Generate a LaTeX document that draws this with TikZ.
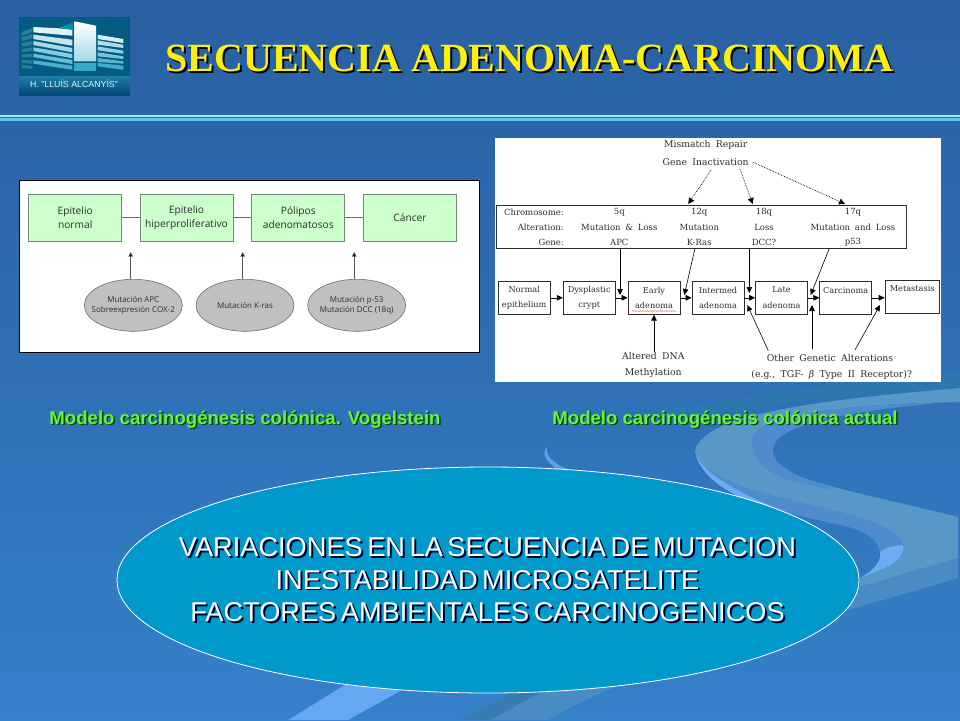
\documentclass[tikz,border=0pt]{standalone}
\usepackage{fontspec}
\setmainfont{Liberation Sans}
\newfontfamily\ttlfont{Liberation Serif}
\newfontfamily\tahfont{Open Sans}
\newfontfamily\serfont[WordSpace=1.8]{DejaVu Serif}
\newfontfamily\bigfont[WordSpace=0.6]{Liberation Sans}
\usetikzlibrary{arrows.meta,shapes.geometric,decorations.pathmorphing}
\definecolor{bgtop}{RGB}{41,96,162}
\definecolor{bgbot}{RGB}{53,129,202}
\definecolor{band}{RGB}{88,152,198}
\definecolor{bandmid}{RGB}{78,140,206}
\definecolor{bandstrip}{RGB}{72,140,195}
\definecolor{bandlow}{RGB}{55,125,180}
\definecolor{bandup}{RGB}{45,122,172}
\definecolor{bandlight}{RGB}{107,172,245}
\definecolor{ovalfill}{RGB}{0,153,204}
\definecolor{boxgreen}{RGB}{204,255,204}
\definecolor{boxedge}{RGB}{120,135,125}
\definecolor{ovalgrey}{RGB}{192,192,192}
\definecolor{capgreen}{RGB}{102,245,60}
\definecolor{ink}{RGB}{45,45,45}
\definecolor{logotop}{RGB}{5,90,130}
\definecolor{logostripT}{RGB}{30,125,165}
\definecolor{logostripB}{RGB}{5,70,120}
\definecolor{flooron}{RGB}{55,170,200}
\tikzset{
  x=1pt,y=-1pt,
  gbox/.style={draw=boxedge,line width=.7pt,fill=boxgreen,minimum width=93,minimum height=47,inner sep=0,align=center,text=ink,font=\tahfont\fontsize{10.2}{13.6}\selectfont},
  goval/.style={ellipse,draw=ink!70,line width=.6pt,fill=ovalgrey,minimum width=98,minimum height=52,inner xsep=-14pt,inner ysep=0,align=center,text=ink,font=\tahfont\fontsize{8}{9.6}\selectfont},
  glink/.style={draw=gray!80!black,line width=.7pt},
  garrow/.style={draw=gray!70!black,line width=.7pt,-{Triangle[length=4.5pt,width=4.5pt,fill=black]}},
  fbox/.style={draw=ink,line width=.7pt,fill=white,minimum width=52,minimum height=33,inner sep=0,align=center,text=ink,font=\serfont\fontsize{8.2}{15.6}\selectfont},
  stxt/.style={inner sep=0,text=ink,font=\serfont\fontsize{9.3}{11}\selectfont},
  ttxt/.style={inner sep=0,text=ink,font=\serfont\fontsize{8.5}{10}\selectfont},
  farrow/.style={draw=black,line width=.6pt,-{Triangle[length=6pt,width=5.5pt]}},
  darrow/.style={draw=black,line width=.7pt,densely dotted,-{Triangle[length=6pt,width=6pt]}},
  ttl/.style={inner sep=0,font=\ttlfont\bfseries\fontsize{40}{42}\selectfont},
  captxt/.style={inner sep=0,font=\bfseries\fontsize{18.6}{21}\selectfont},
  bigtxt/.style={inner sep=0,align=center,font=\bigfont\fontsize{27.2}{32.6}\selectfont},
}
\begin{document}
\begin{tikzpicture}
\useasboundingbox (0,0) rectangle (960,720);
% background
\path[top color=bgtop,bottom color=bgbot,middle color=bgtop!55!bgbot] (0,0) rectangle (960,720);
\clip (0,0) rectangle (960,720);
% swooshes
\fill[bandup,opacity=.7] (547,447) .. controls (590,415) and (800,385) .. (960,372) -- (960,388) .. controls (790,400) and (650,415) .. (547,447) -- cycle;
\fill[band] (695,450) .. controls (705,418) and (790,402) .. (960,388) -- (960,402)
  .. controls (860,404) and (752,412) .. (752,442) .. controls (754,475) and (850,490) .. (958,517)
  -- (958,558) -- (860,587) -- (860,578)
  .. controls (890,567) and (905,560) .. (903,545) .. controls (900,530) and (870,520) .. (840,512)
  .. controls (780,497) and (705,485) .. (695,450) -- cycle;
\fill[bandmid] (752,442) .. controls (752,412) and (860,404) .. (960,402) -- (960,401)
  .. controls (880,408) and (773,420) .. (773,450) .. controls (773,470) and (810,480) .. (835,490)
  .. controls (790,482) and (754,475) .. (752,442) -- cycle;
\fill[bandmid] (695,450) .. controls (705,485) and (780,497) .. (840,512) .. controls (870,520) and (900,530) .. (903,545)
  .. controls (905,560) and (890,567) .. (860,578) .. controls (875,570) and (882,560) .. (880,552)
  .. controls (878,540) and (865,530) .. (840,525) .. controls (770,510) and (700,490) .. (695,450) -- cycle;
\fill[bandlight] (903,545) .. controls (905,560) and (890,567) .. (860,578) .. controls (875,570) and (882,560) .. (880,552) .. controls (885,548) and (895,545) .. (903,545) -- cycle;
\fill[bandlight] (695,450) .. controls (700,490) and (770,510) .. (790,515) .. controls (760,500) and (702,480) .. (695,450) -- cycle;
\fill[bandstrip] (958,558) -- (958,578) .. controls (820,620) and (650,660) .. (548,720) -- (460,720) .. controls (560,660) and (760,610) .. (860,587) -- cycle;
\fill[bandlow] (460,720) -- (490,720) -- (545,690) -- (515,690) -- cycle;
\fill[bandlight,opacity=.9] (345,685) -- (402,690) -- (348,720) -- (288,720) -- cycle;
\fill[bandlight,opacity=.8] (547,447) .. controls (545,457) and (555,465) .. (575,472) -- (560,472) .. controls (548,462) and (540,455) .. (547,447) -- cycle;
% top rule
\fill[cyan!35!white] (0,115.2) rectangle (960,116.7);
\fill[cyan!65!white] (0,117.8) rectangle (960,120.8);
% logo
\fill[logotop] (19,17) rectangle (130,76);
\shade[top color=logostripT,bottom color=logostripB] (19,76) rectangle (130,95);
\foreach \la/\lb/\ra/\rb/\mx in {27/32.3/29/35.7/85,34.7/39/39.7/45.7/70,41/45/48/52.3/55,47.3/51/54/58.3/40,53.7/57/60/64/25,60.3/63.7/65.7/69.7/10}{
  \fill[white!\mx!flooron] (33.3,\la) -- (72.3,\ra) -- (72.3,\rb) -- (33.3,\lb) -- cycle;
}
\foreach \la/\lb/\ra/\rb in {32/36/28/32,37.5/41/34/38.5,43/46.5/41/45,49/52/47.5/51,54.5/57.5/54/57,60/63/60.5/63.7,65/68/66/69}{
  \fill[flooron!75!black] (21.7,\la) -- (32.3,\ra) -- (32.3,\rb) -- (21.7,\lb) -- cycle;
}
\foreach \la/\lb/\ra/\rb/\mx in {34.7/39/39/43/80,40.3/44.7/44.7/48/60,46.3/50.3/50.7/53.7/45,52.3/56.3/56.3/59/30,58/62/61.3/63.7/15,63/66.3/65.7/69.7/5}{
  \fill[white!\mx!flooron] (97.7,\la) -- (123.3,\ra) -- (123.3,\rb) -- (97.7,\lb) -- cycle;
}
\fill[logotop!70!cyan] (58,28) -- (73,22.3) -- (73,30) -- cycle;
\shade[top color=white,bottom color=white!55!flooron] (74.3,21.3) -- (96,25.7) -- (96,61.3) -- (74.3,61.3) -- cycle;
\fill[flooron] (74.3,63) rectangle (96,71.3);
\node[inner sep=0,text=white!85!cyan,font=\fontsize{8.8}{9}\selectfont] (logotext) at (74,83.5) {H. "LLUÍS ALCANYÍS"};
% title
\node[ttl,text=black] (titleS) at (531.5,60.5) {SECUENCIA ADENOMA-CARCINOMA};
\node[ttl,text=yellow] (title) at (529.5,58.5) {SECUENCIA ADENOMA-CARCINOMA};
% left panel
\node[draw=black,line width=.7pt,fill=white,minimum width=460,minimum height=172,inner sep=0] (panelL) at (249.5,266) {};
\node[gbox] (b1) at (75.2,217.8) {Epitelio\\normal};
\node[gbox] (b2) at (186.5,217.8) {Epitelio\\hiperproliferativo};
\node[gbox] (b3) at (298.3,217.8) {Pólipos\\adenomatosos};
\node[gbox] (b4) at (410,217.8) {Cáncer};
\draw[glink] (b1) -- (b2);
\draw[glink] (b2) -- (b3);
\draw[glink] (b3) -- (b4);
\node[goval] (e1) at (133.3,305.3) {Mutación APC\\Sobreexpresión COX-2};
\node[goval] (e2) at (245,305.3) {Mutación K-ras};
\node[goval] (e3) at (356.7,305.3) {Mutación p-53\\Mutación DCC (18q)};
\coordinate (t1) at (130.7,252);
\coordinate (t2) at (242.7,252);
\coordinate (t3) at (354.3,252);
\draw[garrow] (t1 |- e1.north) -- (t1);
\draw[garrow] (t2 |- e2.north) -- (t2);
\draw[garrow] (t3 |- e3.north) -- (t3);
% right panel
\node[fill=white,minimum width=446,minimum height=244,inner sep=0] (panelR) at (718,260) {};
\node[stxt] (mm) at (705.7,144.7) {Mismatch Repair};
\node[stxt] (gi) at (705.7,162) {Gene Inactivation};
\node[draw=ink,line width=.7pt,minimum width=410,minimum height=42.6,inner sep=0] (tab) at (701.7,227) {};
\foreach \nm/\yy/\lab in {r1/212.3/Chromosome:,r2/227.7/Alteration:,r3/242.7/Gene:}
  \node[ttxt,anchor=east] (\nm) at (564,\yy) {\lab};
\node[ttxt] (c11) at (619.3,212.3) {5q};
\node[ttxt] (c12) at (619.3,227.7) {Mutation \& Loss};
\node[ttxt] (c13) at (619.3,242.7) {APC};
\node[ttxt] (c21) at (699.3,212.3) {12q};
\node[ttxt] (c22) at (699.3,227.7) {Mutation};
\node[ttxt] (c23) at (699.3,242.7) {K-Ras};
\node[ttxt] (c31) at (764,212.3) {18q};
\node[ttxt] (c32) at (764,227.7) {Loss};
\node[ttxt] (c33) at (764,242.7) {DCC?};
\node[ttxt] (c41) at (853,212.3) {17q};
\node[ttxt] (c42) at (853,227.7) {Mutation and Loss};
\node[ttxt] (c43) at (853,242.7) {p53};
\coordinate (d1s) at (711,170); \coordinate (d1e) at (688.3,204);
\coordinate (d2s) at (740,169); \coordinate (d2e) at (752.7,204);
\coordinate (d3s) at (753.3,162.3); \coordinate (d3e) at (845,204);
\draw[darrow] (d1s) -- (d1e);
\draw[darrow] (d2s) -- (d2e);
\draw[darrow] (d3s) -- (d3e);
\node[fbox] (n1) at (524.2,297.8) {Normal\\epithelium};
\node[fbox] (n2) at (589.2,297.8) {Dysplastic\\crypt};
\node[fbox] (n3) at (654,297.8) {Early\\adenoma};
\node[fbox] (n4) at (718,297.8) {Intermed\\adenoma};
\node[fbox] (n5) at (781.5,297.8) {Late\\adenoma};
\node[fbox] (n6) at (845.7,297.8) {Carcinoma\\~};
\node[fbox,minimum width=54.3] (n7) at (912.2,296.7) {Metastasis\\~};
\draw[farrow] (n1) -- (n2);
\draw[farrow] (n2) -- (n3);
\draw[farrow] (n3) -- (n4);
\draw[farrow] (n4) -- (n5);
\draw[farrow] (n5) -- (n6);
\draw[farrow] (n6.east) -- (n7.west |- n6.east);
\draw[red!55!white,line width=.5pt,decorate,decoration={snake,amplitude=.5pt,segment length=2.5pt}] (632,311) -- (676,311);
\coordinate (a1) at (620,295); \coordinate (a1s) at (620,248.3);
\coordinate (a2) at (684.3,295); \coordinate (a2s) at (695,248.3);
\coordinate (a3) at (749.3,293); \coordinate (a3s) at (749.3,248.3);
\coordinate (a4) at (810.7,295); \coordinate (a4s) at (829.3,248.3);
\draw[farrow] (a1s) -- (a1);
\draw[farrow] (a2s) -- (a2);
\draw[farrow] (a3s) -- (a3);
\draw[farrow] (a4s) -- (a4);
\node[stxt] (dna1) at (653.3,355.7) {Altered DNA};
\node[stxt] (dna2) at (653.3,372.7) {Methylation};
\draw[farrow] (dna1.north -| n3) -- (n3.south);
\node[stxt] (oth1) at (830,358) {Other Genetic Alterations};
\node[stxt] (oth2) at (831.7,375.3) {(e.g., TGF- \textit{β} Type II Receptor)?};
\coordinate (o1s) at (768.3,350.7); \coordinate (o1e) at (747.3,305);
\coordinate (o2s) at (812,349); \coordinate (o2e) at (812,305);
\coordinate (o3s) at (855,350); \coordinate (o3e) at (880,305);
\draw[farrow] (o1s) -- (o1e);
\draw[farrow] (o2s) -- (o2e);
\draw[farrow] (o3s) -- (o3e);
% captions
\node[captxt,text=black!75!green] (cap1S) at (246.5,421) {Modelo carcinogénesis colónica. Vogelstein};
\node[captxt,text=capgreen] (cap1) at (245,419.5) {Modelo carcinogénesis colónica. Vogelstein};
\node[captxt,text=black!75!green] (cap2S) at (726.5,421) {Modelo carcinogénesis colónica actual};
\node[captxt,text=capgreen] (cap2) at (725,419.5) {Modelo carcinogénesis colónica actual};
% oval
\node[ellipse,draw=white,line width=.8pt,fill=ovalfill,minimum width=742,minimum height=226,inner sep=0] (oval) at (488,580) {};
\node[bigtxt,text=black!80!blue] (ovalS) at (489.5,581.5) {VARIACIONES EN LA SECUENCIA DE MUTACION\\INESTABILIDAD MICROSATELITE\\FACTORES AMBIENTALES CARCINOGENICOS};
\node[bigtxt,text=white] (ovaltext) at (487.5,580) {VARIACIONES EN LA SECUENCIA DE MUTACION\\INESTABILIDAD MICROSATELITE\\FACTORES AMBIENTALES CARCINOGENICOS};
\end{tikzpicture}
\end{document}
